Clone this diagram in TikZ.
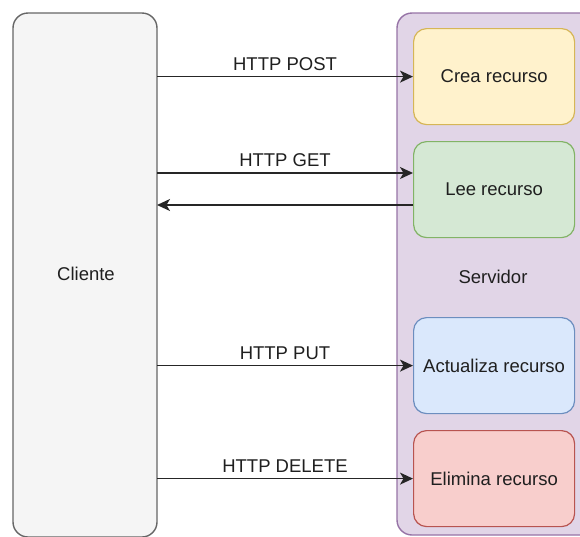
\documentclass[tikz,border=0pt]{standalone}
\usepackage{fontspec}
\setmainfont{Liberation Sans}
\usetikzlibrary{arrows.meta}
\definecolor{cliFill}{HTML}{F5F5F5}
\definecolor{cliLine}{HTML}{666666}
\definecolor{srvFill}{HTML}{E1D5E7}
\definecolor{srvLine}{HTML}{9673A6}
\definecolor{yFill}{HTML}{FFF2CC}
\definecolor{yLine}{HTML}{D6B656}
\definecolor{gFill}{HTML}{D5E8D4}
\definecolor{gLine}{HTML}{82B366}
\definecolor{bFill}{HTML}{DAE8FC}
\definecolor{bLine}{HTML}{6C8EBF}
\definecolor{rFill}{HTML}{F8CECC}
\definecolor{rLine}{HTML}{B85450}
\begin{document}
\begin{tikzpicture}[x=1pt,y=-1pt,
  every node/.style={font=\fontsize{18.5}{22}\selectfont, text=black!88},
  panel/.style={draw, line width=1.4pt, rounded corners=15pt, inner sep=0pt},
  opbox/.style={draw, line width=1.2pt, rounded corners=13pt, minimum width=161pt, minimum height=96pt, anchor=north west, inner sep=0pt},
  msg/.style={line width=1.4pt, draw=black!85, -{Stealth[length=13pt,width=12pt,inset=3.5pt]}},
  lbl/.style={above=2pt, midway}]
\useasboundingbox (0,0) rectangle (580,536);
\begin{scope}
\clip (0,0) rectangle (580,536);
% client and server lanes
\draw[panel, fill=cliFill, draw=cliLine] (13,13) rectangle (157,537);
\draw[panel, fill=srvFill, draw=srvLine] (397,13) rectangle (600,535);
\end{scope}
\node (cli) at (86,274) {Cliente};
\node (srv) at (493,277) {Servidor};
\coordinate (cliR) at (157,274);
% operations on the resource
\node[opbox, fill=yFill, draw=yLine] (crea) at (413,28) {Crea recurso};
\node[opbox, fill=gFill, draw=gLine] (lee) at (413,141) {Lee recurso};
\node[opbox, fill=bFill, draw=bLine] (act) at (413,317) {Actualiza recurso};
\node[opbox, fill=rFill, draw=rLine] (eli) at (413,430) {Elimina recurso};
% requests
\draw[msg] (cliR |- crea.west) -- node[lbl]{HTTP POST} (crea.west);
\draw[msg] (cliR |- 0,173) -- node[lbl]{HTTP GET} (lee.west |- 0,173);
\draw[msg] (lee.west |- 0,205) -- (cliR |- 0,205);
\draw[msg] (cliR |- act.west) -- node[lbl]{HTTP PUT} (act.west);
\draw[msg] (cliR |- eli.west) -- node[lbl]{HTTP DELETE} (eli.west);
\end{tikzpicture}
\end{document}
